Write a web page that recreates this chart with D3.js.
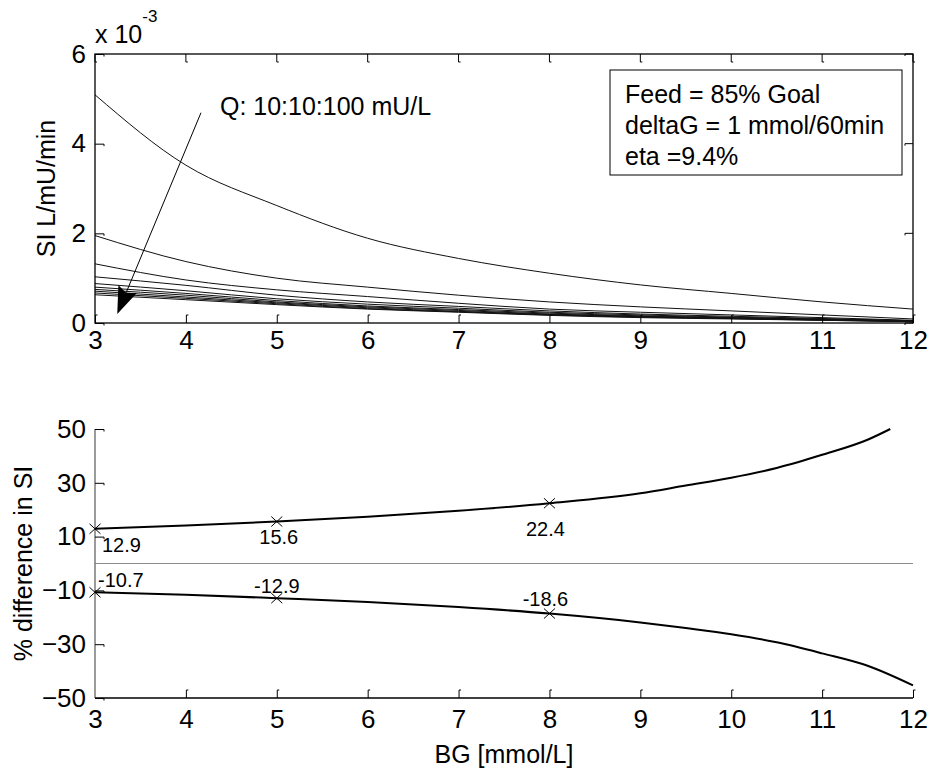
<!DOCTYPE html>
<html>
<head>
<meta charset="utf-8">
<script src="https://cdn.jsdelivr.net/npm/d3@7"></script>
<style>
  html, body { margin: 0; padding: 0; background: #fff; }
  svg { display: block; font-family: "Liberation Sans", Arial, sans-serif; }
</style>
</head>
<body>
<svg id="chart" width="931" height="771"></svg>
<script>
// ---- Data -------------------------------------------------------------
// Blood glucose grid (mmol/L) for the SI curves
const bgGrid = [3, 4, 5, 6, 7, 8, 9, 10, 11, 12];
// Insulin concentrations Q (mU/L), one SI curve each (SI in 1e-3 L/mU/min)
const insulinQ = [10, 20, 30, 40, 50, 60, 70, 80, 90, 100];
const siQ10  = [5.09, 3.52, 2.62, 1.89, 1.44, 1.11, 0.85, 0.66, 0.47, 0.31];
const siQ20  = [1.95, 1.37, 1.00, 0.80, 0.62, 0.47, 0.36, 0.27, 0.18, 0.09];
const siQ30  = [1.32, 0.96, 0.74, 0.59, 0.44, 0.31, 0.24, 0.18, 0.12, 0.06];
const siQ40  = [1.03, 0.84, 0.62, 0.47, 0.37, 0.27, 0.20, 0.15, 0.10, 0.05];
const siQ50  = [0.88, 0.72, 0.54, 0.42, 0.33, 0.24, 0.18, 0.13, 0.09, 0.05];
const siQ60  = [0.80, 0.66, 0.50, 0.38, 0.30, 0.22, 0.16, 0.12, 0.08, 0.04];
const siQ70  = [0.75, 0.62, 0.47, 0.36, 0.28, 0.20, 0.15, 0.11, 0.07, 0.04];
const siQ80  = [0.71, 0.58, 0.45, 0.34, 0.26, 0.19, 0.14, 0.10, 0.07, 0.03];
const siQ90  = [0.67, 0.55, 0.43, 0.32, 0.25, 0.18, 0.13, 0.10, 0.06, 0.03];
const siQ100 = [0.63, 0.52, 0.41, 0.31, 0.24, 0.17, 0.12, 0.09, 0.06, 0.03];
const siCurves = [siQ10, siQ20, siQ30, siQ40, siQ50, siQ60, siQ70, siQ80, siQ90, siQ100];

// % difference in SI, upper and lower bounds
const bgUpper   = [3, 4, 5, 6, 7, 8, 9, 9.5, 10, 10.5, 11, 11.5, 11.75];
const diffUpper = [12.9, 14.1, 15.6, 17.4, 19.6, 22.4, 26.1, 29.0, 31.9, 35.5, 40.4, 46.0, 50.0];
const bgLower   = [3, 4, 5, 6, 7, 8, 9, 9.5, 10, 10.5, 11, 11.5, 12];
const diffLower = [-10.7, -11.6, -12.9, -14.3, -16.2, -18.6, -21.9, -24.0, -26.3, -29.3, -33.4, -38.0, -45.3];

// Highlighted points with their labels
const markedBG    = [3, 5, 8];
const markedUpper = [12.9, 15.6, 22.4];
const markedLower = [-10.7, -12.9, -18.6];

// Tick values
const xTicks      = [3, 4, 5, 6, 7, 8, 9, 10, 11, 12];
const siTicks     = [0, 2, 4, 6];
const diffTicks   = [50, 30, 10, -10, -30, -50];

// Annotation text
const infoLines = ["Feed = 85% Goal", "deltaG = 1 mmol/60min", "eta =9.4%"];
const qLabel = "Q: 10:10:100 mU/L";
// Arrow across the Q family: tail and head in data units (BG, SI x 1e-3)
const qArrow = [[4.166, 4.69], [3.245, 0.20]];

// ---- Layout -----------------------------------------------------------
const svg = d3.select("#chart");
const L = 95, R = 913;
const top1 = 54, bot1 = 323;
const top2 = 429, bot2 = 698;
const tickFont = 26, labelFont = 25;

const x = d3.scaleLinear().domain([3, 12]).range([L, R]);
const ySI = d3.scaleLinear().domain([0, 6]).range([bot1, top1]);
const yD = d3.scaleLinear().domain([-50, 50]).range([bot2, top2]);

// Inward tick with a tiny hook at its end
function tickPath(orient, len, hook) {
  if (orient === "up") return `M0,0V${-len}h${hook}`;
  if (orient === "down") return `M0,0V${len}h${hook}`;
  if (orient === "right") return `M0,0H${len}v${hook}`;
  return `M0,0H${-len}v${hook}`;
}

function styleAxis(g) {
  g.select(".domain").remove();
  g.selectAll(".tick line").remove();
  g.selectAll(".tick text").attr("font-size", tickFont).attr("fill", "#000")
    .attr("font-family", "\"Liberation Sans\", Arial, sans-serif");
}

// ================= Top panel =================
const p1 = svg.append("g");

// curves
const lineSI = d3.line().x((d, i) => x(bgGrid[i])).y(d => ySI(d)).curve(d3.curveMonotoneX);
p1.append("g").selectAll("path").data(siCurves).join("path")
  .attr("d", lineSI).attr("fill", "none").attr("stroke", "#111").attr("stroke-width", 1);

// frame
p1.append("rect").attr("x", L).attr("y", top1).attr("width", R - L).attr("height", bot1 - top1)
  .attr("fill", "none").attr("stroke", "#000").attr("stroke-width", 1.3);

// x ticks (bottom and top)
const ax1 = p1.append("g").attr("transform", `translate(0,${bot1})`)
  .call(d3.axisBottom(x).tickValues(xTicks).tickFormat(d3.format("d")).tickSize(0).tickPadding(8));
styleAxis(ax1);
ax1.selectAll(".tick").append("path").attr("d", tickPath("up", 8, 2)).attr("fill", "none").attr("stroke", "#000");
p1.append("g").selectAll("path").data(xTicks).join("path")
  .attr("transform", d => `translate(${x(d)},${top1})`)
  .attr("d", tickPath("down", 8, 2)).attr("fill", "none").attr("stroke", "#000");

// y ticks (left and right)
const ay1 = p1.append("g").attr("transform", `translate(${L},0)`)
  .call(d3.axisLeft(ySI).tickValues(siTicks).tickFormat(d3.format("d")).tickSize(0).tickPadding(9));
styleAxis(ay1);
ay1.selectAll(".tick").append("path").attr("d", tickPath("right", 9, 2)).attr("fill", "none").attr("stroke", "#000");
p1.append("g").selectAll("path").data(siTicks).join("path")
  .attr("transform", d => `translate(${R},${ySI(d)})`)
  .attr("d", tickPath("left", 8, 2)).attr("fill", "none").attr("stroke", "#000");

// exponent label
const expo = p1.append("text").attr("x", L).attr("y", 43).attr("font-size", 25);
expo.append("tspan").text("x 10");
expo.append("tspan").attr("dy", -21).attr("font-size", 17).text("-3");

// y label
p1.append("text").attr("transform", `translate(55,${(top1 + bot1) / 2}) rotate(-90)`)
  .attr("text-anchor", "middle").attr("font-size", labelFont).text("SI L/mU/min");

// Q annotation and arrow
p1.append("text").attr("x", x(4.375)).attr("y", ySI(4.64)).attr("font-size", labelFont).text(qLabel);
{
  const [t0, t1] = qArrow;
  const sx = x(t0[0]), sy = ySI(t0[1]), tx = x(t1[0]), ty = ySI(t1[1]);
  const dx = tx - sx, dy = ty - sy, len = Math.hypot(dx, dy);
  const ux = dx / len, uy = dy / len, nx = -uy, ny = ux;
  const hl = 27, hw = 10, notch = 4;
  const bx = tx - ux * hl, by = ty - uy * hl;
  p1.append("line").attr("x1", sx).attr("y1", sy).attr("x2", bx + ux * notch).attr("y2", by + uy * notch)
    .attr("stroke", "#000").attr("stroke-width", 1);
  p1.append("path")
    .attr("d", `M${tx},${ty}L${bx + nx * hw},${by + ny * hw}L${bx + ux * notch},${by + uy * notch}L${bx - nx * hw},${by - ny * hw}Z`)
    .attr("fill", "#000");
}

// info box
const box = p1.append("g");
box.append("rect").attr("x", 610).attr("y", 70).attr("width", 292).attr("height", 105)
  .attr("fill", "#fff").attr("stroke", "#000").attr("stroke-width", 1);
box.selectAll("text").data(infoLines).join("text")
  .attr("x", 625).attr("y", (d, i) => 103 + i * 31).attr("font-size", labelFont).text(d => d);

// ================= Bottom panel =================
const p2 = svg.append("g");

// zero reference
p2.append("line").attr("x1", L).attr("x2", R).attr("y1", yD(0)).attr("y2", yD(0))
  .attr("stroke", "#8c8c8c").attr("stroke-width", 1);

// axes lines
p2.append("line").attr("x1", L).attr("x2", L).attr("y1", top2).attr("y2", bot2)
  .attr("stroke", "#7a7a7a").attr("stroke-width", 1.5);
p2.append("line").attr("x1", L).attr("x2", R).attr("y1", bot2).attr("y2", bot2)
  .attr("stroke", "#000").attr("stroke-width", 1.3);

const ax2 = p2.append("g").attr("transform", `translate(0,${bot2})`)
  .call(d3.axisBottom(x).tickValues(xTicks).tickFormat(d3.format("d")).tickSize(0).tickPadding(12));
styleAxis(ax2);
ax2.selectAll(".tick").filter(d => d !== 3).append("path").attr("d", tickPath("up", 8, 2))
  .attr("fill", "none").attr("stroke", "#000");

const ay2 = p2.append("g").attr("transform", `translate(${L},0)`)
  .call(d3.axisLeft(yD).tickValues(diffTicks).tickFormat(d3.format("d")).tickSize(0).tickPadding(9));
styleAxis(ay2);
ay2.selectAll(".tick").append("path").attr("d", tickPath("right", 9, 2)).attr("fill", "none").attr("stroke", "#000");

// curves
const lineUp = d3.line().x((d, i) => x(bgUpper[i])).y(d => yD(d)).curve(d3.curveMonotoneX);
const lineLo = d3.line().x((d, i) => x(bgLower[i])).y(d => yD(d)).curve(d3.curveMonotoneX);
p2.append("path").attr("d", lineUp(diffUpper)).attr("fill", "none").attr("stroke", "#000").attr("stroke-width", 2);
p2.append("path").attr("d", lineLo(diffLower)).attr("fill", "none").attr("stroke", "#000").attr("stroke-width", 2);

// markers and value labels
const upperOffsets = [[7, 23, "start"], [2, 22, "middle"], [-4, 33, "middle"]];
const lowerOffsets = [[3, -5, "start"], [0, -5, "middle"], [-4, -8, "middle"]];
const cross = "M-5.5,-5L5.5,5M-5.5,5L5.5,-5";
function markSeries(vals, offs) {
  vals.forEach((v, i) => {
    const px = x(markedBG[i]), py = yD(v);
    p2.append("path").attr("transform", `translate(${px},${py})`).attr("d", cross)
      .attr("stroke", "#000").attr("stroke-width", 1).attr("fill", "none");
    p2.append("text").attr("x", px + offs[i][0]).attr("y", py + offs[i][1])
      .attr("text-anchor", offs[i][2]).attr("font-size", 20).text(v.toFixed(1));
  });
}
markSeries(markedUpper, upperOffsets);
markSeries(markedLower, lowerOffsets);

// labels
p2.append("text").attr("transform", `translate(32,${(top2 + bot2) / 2}) rotate(-90)`)
  .attr("text-anchor", "middle").attr("font-size", labelFont).text("% difference in SI");
p2.append("text").attr("x", (L + R) / 2).attr("y", 763).attr("text-anchor", "middle")
  .attr("font-size", labelFont).text("BG [mmol/L]");
</script>
</body>
</html>
